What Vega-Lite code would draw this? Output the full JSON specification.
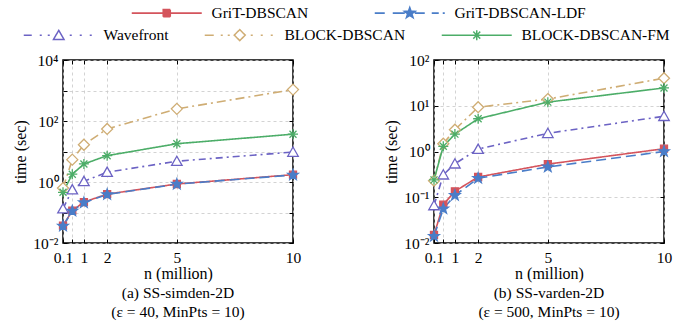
{
  "$schema": "https://vega.github.io/schema/vega-lite/v6.json",
  "padding": {"left": 12, "top": 5, "right": 5, "bottom": 2},
  "bounds": "flush",
  "config": {
    "font": "Liberation Serif",
    "view": {"stroke": "black", "strokeWidth": 1.5},
    "axis": {
      "labelFont": "Liberation Serif", "labelFontSize": 15.5, "labelColor": "black",
      "titleFont": "Liberation Serif", "titleFontSize": 16, "titleFontWeight": "normal", "titleColor": "black",
      "domain": false, "tickColor": "black", "tickWidth": 1,
      "gridColor": "#c8c8c8", "gridDash": [3, 3], "gridWidth": 0.8,
      "labelFlush": false, "labelOverlap": false
    },
    "legend": {"padding": 0, "offset": 0, "labelFont": "Liberation Serif", "labelFontSize": 15.5, "labelColor": "black", "labelLimit": 300},
    "title": {"font": "Liberation Serif", "fontSize": 15.5, "fontWeight": "normal", "color": "black", "subtitleFont": "Liberation Serif", "subtitleFontSize": 15.5, "subtitleColor": "black"}
  },
  "data": {"values": [
    {"panel": "a", "method": "GriT-DBSCAN", "n": 0.1, "time": 0.037},
    {"panel": "a", "method": "GriT-DBSCAN", "n": 0.5, "time": 0.115},
    {"panel": "a", "method": "GriT-DBSCAN", "n": 1, "time": 0.22},
    {"panel": "a", "method": "GriT-DBSCAN", "n": 2, "time": 0.40},
    {"panel": "a", "method": "GriT-DBSCAN", "n": 5, "time": 0.86},
    {"panel": "a", "method": "GriT-DBSCAN", "n": 10, "time": 1.74},
    {"panel": "a", "method": "GriT-DBSCAN-LDF", "n": 0.1, "time": 0.036},
    {"panel": "a", "method": "GriT-DBSCAN-LDF", "n": 0.5, "time": 0.112},
    {"panel": "a", "method": "GriT-DBSCAN-LDF", "n": 1, "time": 0.21},
    {"panel": "a", "method": "GriT-DBSCAN-LDF", "n": 2, "time": 0.39},
    {"panel": "a", "method": "GriT-DBSCAN-LDF", "n": 5, "time": 0.85},
    {"panel": "a", "method": "GriT-DBSCAN-LDF", "n": 10, "time": 1.70},
    {"panel": "a", "method": "Wavefront", "n": 0.1, "time": 0.133},
    {"panel": "a", "method": "Wavefront", "n": 0.5, "time": 0.56},
    {"panel": "a", "method": "Wavefront", "n": 1, "time": 1.05},
    {"panel": "a", "method": "Wavefront", "n": 2, "time": 2.1},
    {"panel": "a", "method": "Wavefront", "n": 5, "time": 4.8},
    {"panel": "a", "method": "Wavefront", "n": 10, "time": 9.6},
    {"panel": "a", "method": "BLOCK-DBSCAN", "n": 0.1, "time": 0.63},
    {"panel": "a", "method": "BLOCK-DBSCAN", "n": 0.5, "time": 5.4},
    {"panel": "a", "method": "BLOCK-DBSCAN", "n": 1, "time": 16.7},
    {"panel": "a", "method": "BLOCK-DBSCAN", "n": 2, "time": 55},
    {"panel": "a", "method": "BLOCK-DBSCAN", "n": 5, "time": 250},
    {"panel": "a", "method": "BLOCK-DBSCAN", "n": 10, "time": 1070},
    {"panel": "a", "method": "BLOCK-DBSCAN-FM", "n": 0.1, "time": 0.46},
    {"panel": "a", "method": "BLOCK-DBSCAN-FM", "n": 0.5, "time": 1.8},
    {"panel": "a", "method": "BLOCK-DBSCAN-FM", "n": 1, "time": 3.9},
    {"panel": "a", "method": "BLOCK-DBSCAN-FM", "n": 2, "time": 7.3},
    {"panel": "a", "method": "BLOCK-DBSCAN-FM", "n": 5, "time": 18},
    {"panel": "a", "method": "BLOCK-DBSCAN-FM", "n": 10, "time": 37},
    {"panel": "b", "method": "GriT-DBSCAN", "n": 0.1, "time": 0.015},
    {"panel": "b", "method": "GriT-DBSCAN", "n": 0.5, "time": 0.069},
    {"panel": "b", "method": "GriT-DBSCAN", "n": 1, "time": 0.135},
    {"panel": "b", "method": "GriT-DBSCAN", "n": 2, "time": 0.277},
    {"panel": "b", "method": "GriT-DBSCAN", "n": 5, "time": 0.53},
    {"panel": "b", "method": "GriT-DBSCAN", "n": 10, "time": 1.15},
    {"panel": "b", "method": "GriT-DBSCAN-LDF", "n": 0.1, "time": 0.014},
    {"panel": "b", "method": "GriT-DBSCAN-LDF", "n": 0.5, "time": 0.056},
    {"panel": "b", "method": "GriT-DBSCAN-LDF", "n": 1, "time": 0.11},
    {"panel": "b", "method": "GriT-DBSCAN-LDF", "n": 2, "time": 0.26},
    {"panel": "b", "method": "GriT-DBSCAN-LDF", "n": 5, "time": 0.46},
    {"panel": "b", "method": "GriT-DBSCAN-LDF", "n": 10, "time": 1.0},
    {"panel": "b", "method": "Wavefront", "n": 0.1, "time": 0.066},
    {"panel": "b", "method": "Wavefront", "n": 0.5, "time": 0.31},
    {"panel": "b", "method": "Wavefront", "n": 1, "time": 0.54},
    {"panel": "b", "method": "Wavefront", "n": 2, "time": 1.13},
    {"panel": "b", "method": "Wavefront", "n": 5, "time": 2.5},
    {"panel": "b", "method": "Wavefront", "n": 10, "time": 5.9},
    {"panel": "b", "method": "BLOCK-DBSCAN", "n": 0.1, "time": 0.23},
    {"panel": "b", "method": "BLOCK-DBSCAN", "n": 0.5, "time": 1.48},
    {"panel": "b", "method": "BLOCK-DBSCAN", "n": 1, "time": 3.0},
    {"panel": "b", "method": "BLOCK-DBSCAN", "n": 2, "time": 9.3},
    {"panel": "b", "method": "BLOCK-DBSCAN", "n": 5, "time": 14},
    {"panel": "b", "method": "BLOCK-DBSCAN", "n": 10, "time": 40},
    {"panel": "b", "method": "BLOCK-DBSCAN-FM", "n": 0.1, "time": 0.24},
    {"panel": "b", "method": "BLOCK-DBSCAN-FM", "n": 0.5, "time": 1.3},
    {"panel": "b", "method": "BLOCK-DBSCAN-FM", "n": 1, "time": 2.4},
    {"panel": "b", "method": "BLOCK-DBSCAN-FM", "n": 2, "time": 5.2},
    {"panel": "b", "method": "BLOCK-DBSCAN-FM", "n": 5, "time": 12},
    {"panel": "b", "method": "BLOCK-DBSCAN-FM", "n": 10, "time": 24.5}
  ]},
  "spacing": 141,
  "hconcat": [
    {
      "width": 230, "height": 183,
      "transform": [{"filter": "datum.panel == 'a'"}],
      "title": {"text": "(a) SS-simden-2D", "subtitle": "(ε = 40, MinPts = 10)", "orient": "bottom", "anchor": "middle", "offset": 4, "subtitlePadding": 4},
      "resolve": {"axis": {"x": "independent", "y": "independent"}},
      "layer": [
        {
          "mark": {"type": "line"},
          "encoding": {
            "x": {"field": "n", "type": "quantitative", "scale": {"domain": [0.1, 10], "nice": false, "zero": false},
              "axis": {"orient": "bottom", "values": [0.1, 0.5, 1, 2, 5, 10], "labelExpr": "datum.value == 0.5 ? '' : '' + datum.value", "tickSize": -4, "labelPadding": 11, "title": "n (million)", "titlePadding": 0, "grid": true}},
            "y": {"field": "time", "type": "quantitative", "scale": {"type": "log", "domain": [0.01, 10000], "nice": false},
              "axis": {"orient": "left", "values": [0.01, 0.1, 1, 10, 100, 1000, 10000], "labelExpr": "datum.value == 10000 ? '10⁴' : datum.value == 100 ? '10²' : datum.value == 1 ? '10⁰' : datum.value == 0.01 ? '10⁻²' : ''", "tickSize": -4, "labelPadding": 9, "title": "time (sec)", "titlePadding": 4, "grid": true}},
            "color": {"field": "method", "type": "nominal",
              "scale": {"domain": ["GriT-DBSCAN", "GriT-DBSCAN-LDF", "Wavefront", "BLOCK-DBSCAN", "BLOCK-DBSCAN-FM"], "range": ["#d4545c", "#4a7dc8", "#6c63c4", "#cfad74", "#4cad68"]},
              "legend": null},
            "strokeWidth": {"field": "method", "type": "nominal",
              "scale": {"type": "ordinal", "domain": ["GriT-DBSCAN-LDF", "GriT-DBSCAN", "Wavefront", "BLOCK-DBSCAN", "BLOCK-DBSCAN-FM"], "range": [1.6, 1.6, 1.6, 1.6, 1.6]},
              "legend": {"orient": "none", "legendX": 61, "legendY": -55, "direction": "horizontal", "title": null,
                "values": ["GriT-DBSCAN", "GriT-DBSCAN-LDF"], "symbolSize": 100, "symbolStrokeWidth": 1.5, "labelOffset": 72, "columnPadding": 58,
                "encode": {"symbols": {"update": {
                  "shape": {"signal": "datum.value === 'GriT-DBSCAN' ? 'M0,0H14M6.3,-0.7H7.7V0.7H6.3Z' : 'M0,0H2M3.6,0H6M8,0H10M11.4,0H12.8M13.6,0H14M7,-1.1L7.259,-0.356L8.046,-0.34L7.418,0.136L7.647,0.89L7,0.44L6.353,0.89L6.582,0.136L5.954,-0.34L6.741,-0.356Z'"},
                  "stroke": {"signal": "datum.value === 'GriT-DBSCAN' ? '#d4545c' : '#4a7dc8'"},
                  "fill": {"signal": "datum.value === 'GriT-DBSCAN' ? '#d4545c' : '#4a7dc8'"},
                  "strokeDash": {"value": [1, 0]},
                  "opacity": {"value": 1},
                  "strokeWidth": {"value": 1.5}
                }}}}},
            "strokeDash": {"field": "method", "type": "nominal",
              "scale": {"domain": ["GriT-DBSCAN", "GriT-DBSCAN-LDF", "Wavefront", "BLOCK-DBSCAN", "BLOCK-DBSCAN-FM"], "range": [[1, 0], [10, 5], [7, 4, 2, 4], [9, 4, 2, 4], [1, 0]]},
              "legend": null},
            "opacity": {"field": "method", "type": "nominal",
              "scale": {"type": "ordinal", "domain": ["Wavefront", "BLOCK-DBSCAN", "BLOCK-DBSCAN-FM", "GriT-DBSCAN", "GriT-DBSCAN-LDF"], "range": [1, 1, 1, 1, 1]},
              "legend": {"orient": "none", "legendX": -47, "legendY": -33, "direction": "horizontal", "title": null,
                "values": ["Wavefront", "BLOCK-DBSCAN", "BLOCK-DBSCAN-FM"], "symbolSize": 100, "symbolStrokeWidth": 1.5, "labelOffset": 72, "columnPadding": 28,
                "encode": {"symbols": {"update": {
                  "shape": {"signal": "datum.value === 'Wavefront' ? 'M0,0H1.6M3.2,0H3.6M4.8,0H5.2M7,-0.95L8.05,0.85L5.95,0.85ZM9.2,0H9.6M11.2,0H11.6M13.2,0H13.6' : datum.value === 'BLOCK-DBSCAN' ? 'M0,0H1.8M3.2,0H3.6M4.6,0H5M7,-1.1L8.1,0L7,1.1L5.9,0ZM9.2,0H9.6M11.2,0H11.6M13.2,0H13.6' : 'M0,0H14M7,-1V1M6.3,-0.7L7.7,0.7M6.3,0.7L7.7,-0.7'"},
                  "stroke": {"signal": "datum.value === 'Wavefront' ? '#6c63c4' : datum.value === 'BLOCK-DBSCAN' ? '#cfad74' : '#4cad68'"},
                  "fill": {"signal": "datum.value === 'BLOCK-DBSCAN-FM' ? 'transparent' : 'white'"},
                  "strokeDash": {"value": [1, 0]},
                  "opacity": {"value": 1},
                  "strokeWidth": {"value": 1.5}
                }}}}}
          }
        },
        {
          "mark": {"type": "point", "size": 100, "strokeWidth": 1.3, "opacity": 1, "filled": false},
          "encoding": {
            "x": {"field": "n", "type": "quantitative", "axis": {"orient": "top", "values": [0.1, 0.5, 1, 2, 5, 10], "labels": false, "tickSize": -4, "grid": false, "title": null}},
            "y": {"field": "time", "type": "quantitative", "axis": {"orient": "right", "values": [0.01, 0.1, 1, 10, 100, 1000, 10000], "labels": false, "tickSize": -4, "grid": false, "title": null}},
            "color": {"field": "method", "type": "nominal", "legend": null},
            "fill": {"field": "method", "type": "nominal",
              "scale": {"domain": ["GriT-DBSCAN", "GriT-DBSCAN-LDF", "Wavefront", "BLOCK-DBSCAN", "BLOCK-DBSCAN-FM"], "range": ["#d4545c", "#4a7dc8", "white", "white", "transparent"]},
              "legend": null},
            "shape": {"field": "method", "type": "nominal",
              "scale": {"domain": ["GriT-DBSCAN", "GriT-DBSCAN-LDF", "Wavefront", "BLOCK-DBSCAN", "BLOCK-DBSCAN-FM"], "range": ["M-0.7,-0.7H0.7V0.7H-0.7Z", "M0,-1.1L0.259,-0.356L1.046,-0.34L0.418,0.136L0.647,0.89L0,0.44L-0.647,0.89L-0.418,0.136L-1.046,-0.34L-0.259,-0.356Z", "M0,-1L1.05,0.85L-1.05,0.85Z", "M0,-1.1L1.1,0L0,1.1L-1.1,0Z", "M-1,0H1M0,-1V1M-0.7,-0.7L0.7,0.7M-0.7,0.7L0.7,-0.7"]},
              "legend": null}
          }
        }
      ]
    },
    {
      "width": 230, "height": 183,
      "transform": [{"filter": "datum.panel == 'b'"}],
      "title": {"text": "(b) SS-varden-2D", "subtitle": "(ε = 500, MinPts = 10)", "orient": "bottom", "anchor": "middle", "offset": 4, "subtitlePadding": 4},
      "resolve": {"axis": {"x": "independent", "y": "independent"}},
      "layer": [
        {
          "mark": {"type": "line"},
          "encoding": {
            "x": {"field": "n", "type": "quantitative", "scale": {"domain": [0.1, 10], "nice": false, "zero": false},
              "axis": {"orient": "bottom", "values": [0.1, 0.5, 1, 2, 5, 10], "labelExpr": "datum.value == 0.5 ? '' : '' + datum.value", "tickSize": -4, "labelPadding": 11, "title": "n (million)", "titlePadding": 0, "grid": true}},
            "y": {"field": "time", "type": "quantitative", "scale": {"type": "log", "domain": [0.01, 100], "nice": false},
              "axis": {"orient": "left", "values": [0.01, 0.1, 1, 10, 100], "labelExpr": "datum.value == 100 ? '10²' : datum.value == 10 ? '10¹' : datum.value == 1 ? '10⁰' : datum.value == 0.1 ? '10⁻¹' : '10⁻²'", "tickSize": -4, "labelPadding": 9, "title": "time (sec)", "titlePadding": 4, "grid": true}},
            "color": {"field": "method", "type": "nominal",
              "scale": {"domain": ["GriT-DBSCAN", "GriT-DBSCAN-LDF", "Wavefront", "BLOCK-DBSCAN", "BLOCK-DBSCAN-FM"], "range": ["#d4545c", "#4a7dc8", "#6c63c4", "#cfad74", "#4cad68"]},
              "legend": null},
            "strokeDash": {"field": "method", "type": "nominal",
              "scale": {"domain": ["GriT-DBSCAN", "GriT-DBSCAN-LDF", "Wavefront", "BLOCK-DBSCAN", "BLOCK-DBSCAN-FM"], "range": [[1, 0], [10, 5], [7, 4, 2, 4], [9, 4, 2, 4], [1, 0]]},
              "legend": null},
            "strokeWidth": {"field": "method", "type": "nominal",
              "scale": {"type": "ordinal", "domain": ["GriT-DBSCAN-LDF", "GriT-DBSCAN", "Wavefront", "BLOCK-DBSCAN", "BLOCK-DBSCAN-FM"], "range": [1.6, 1.6, 1.6, 1.6, 1.6]},
              "legend": null},
            "opacity": {"field": "method", "type": "nominal",
              "scale": {"type": "ordinal", "domain": ["Wavefront", "BLOCK-DBSCAN", "BLOCK-DBSCAN-FM", "GriT-DBSCAN", "GriT-DBSCAN-LDF"], "range": [1, 1, 1, 1, 1]},
              "legend": null}
          }
        },
        {
          "mark": {"type": "point", "size": 100, "strokeWidth": 1.3, "opacity": 1, "filled": false},
          "encoding": {
            "x": {"field": "n", "type": "quantitative", "axis": {"orient": "top", "values": [0.1, 0.5, 1, 2, 5, 10], "labels": false, "tickSize": -4, "grid": false, "title": null}},
            "y": {"field": "time", "type": "quantitative", "axis": {"orient": "right", "values": [0.01, 0.1, 1, 10, 100], "labels": false, "tickSize": -4, "grid": false, "title": null}},
            "color": {"field": "method", "type": "nominal", "legend": null},
            "fill": {"field": "method", "type": "nominal",
              "scale": {"domain": ["GriT-DBSCAN", "GriT-DBSCAN-LDF", "Wavefront", "BLOCK-DBSCAN", "BLOCK-DBSCAN-FM"], "range": ["#d4545c", "#4a7dc8", "white", "white", "transparent"]},
              "legend": null},
            "shape": {"field": "method", "type": "nominal",
              "scale": {"domain": ["GriT-DBSCAN", "GriT-DBSCAN-LDF", "Wavefront", "BLOCK-DBSCAN", "BLOCK-DBSCAN-FM"], "range": ["M-0.7,-0.7H0.7V0.7H-0.7Z", "M0,-1.1L0.259,-0.356L1.046,-0.34L0.418,0.136L0.647,0.89L0,0.44L-0.647,0.89L-0.418,0.136L-1.046,-0.34L-0.259,-0.356Z", "M0,-1L1.05,0.85L-1.05,0.85Z", "M0,-1.1L1.1,0L0,1.1L-1.1,0Z", "M-1,0H1M0,-1V1M-0.7,-0.7L0.7,0.7M-0.7,0.7L0.7,-0.7"]},
              "legend": null}
          }
        }
      ]
    }
  ]
}
